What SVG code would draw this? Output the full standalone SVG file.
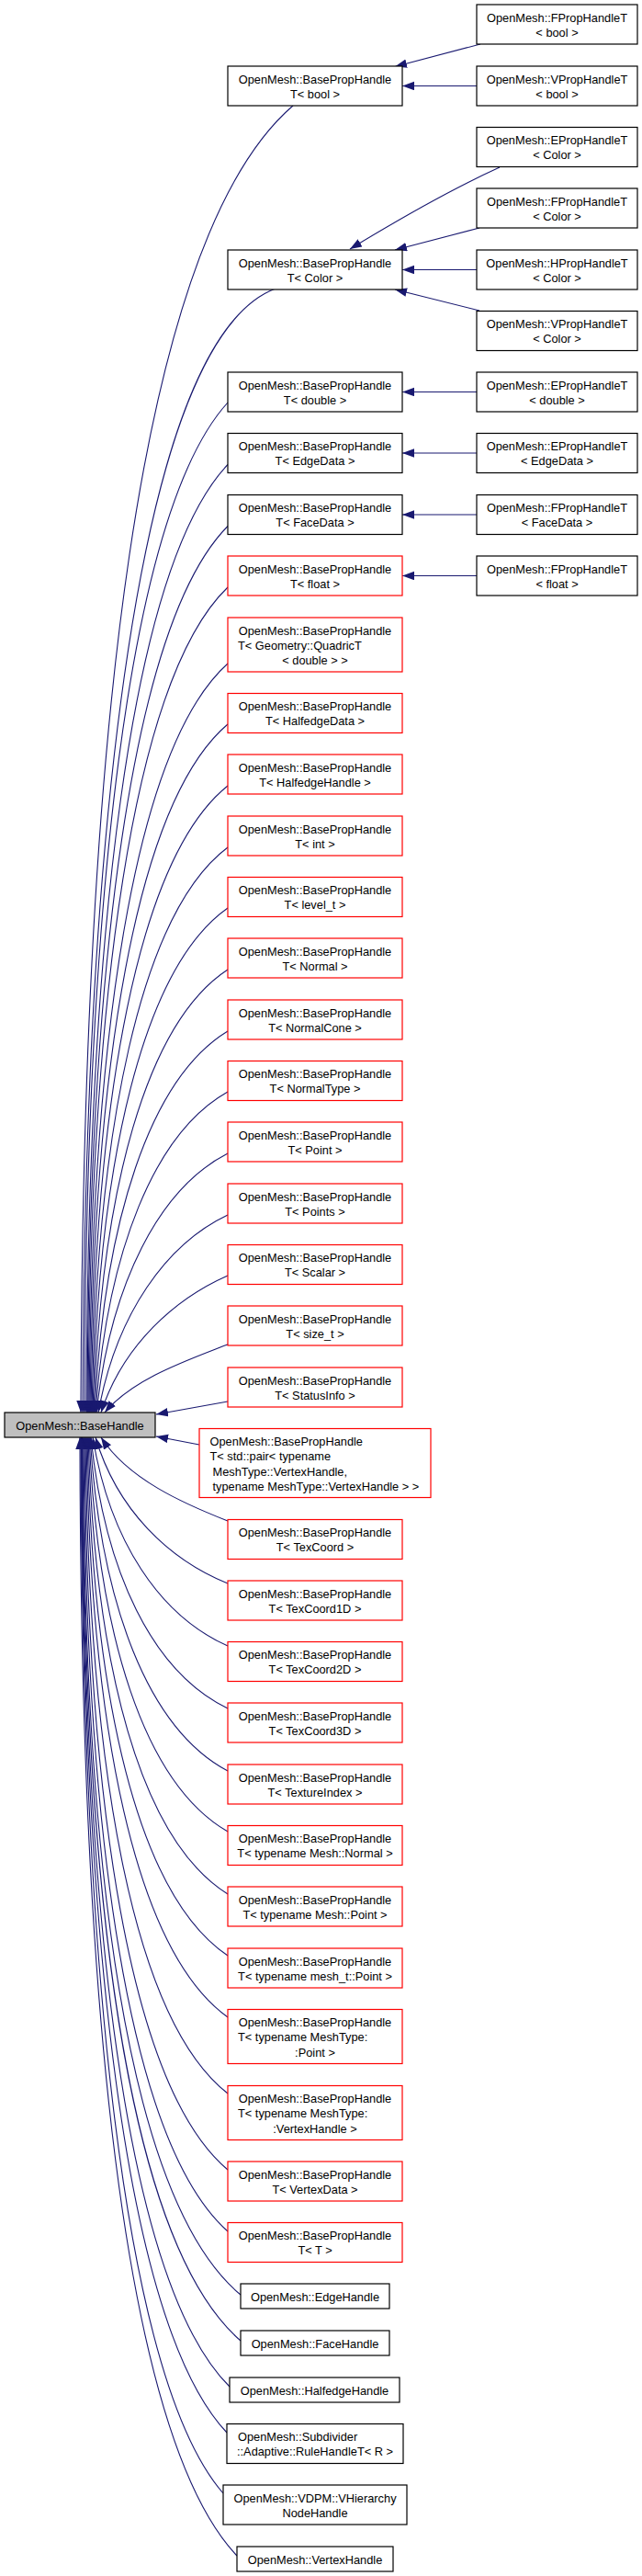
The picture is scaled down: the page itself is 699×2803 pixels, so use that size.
<svg xmlns="http://www.w3.org/2000/svg" width="699" height="2803" viewBox="0 0 699 2803">
<style>
rect{fill:#fff;stroke-width:1.2}
.b rect{stroke:#000}
.r rect{stroke:#f00}
.g rect{fill:#bfbfbf;stroke:#000}
text{font-family:"Liberation Sans",Arial,sans-serif;font-size:12.8px;fill:#000}
.c{text-anchor:middle}
#edges path{fill:none;stroke:#191970;stroke-width:1.1}
</style>
<defs>
<marker id="a" markerUnits="userSpaceOnUse" markerWidth="14" markerHeight="10" viewBox="0 0 14 10" refX="13" refY="4.75" orient="auto">
<path d="M0,0 L13,4.75 L0,9.5 z" fill="#191970"/>
</marker>
</defs>
<rect x="0" y="0" width="699" height="2803" style="fill:#fff;stroke:none"/>
<g id="edges" marker-end="url(#a)">
<path d="M523,48 L430,72.5" marker-end="url(#a)"/>
<path d="M519,93.5 L438,93.5" marker-end="url(#a)"/>
<path d="M544,182 C500,202 440,235 381,271" marker-end="url(#a)"/>
<path d="M522,248 L430,272" marker-end="url(#a)"/>
<path d="M519,293.5 L438,293.5" marker-end="url(#a)"/>
<path d="M522,338 L430,315" marker-end="url(#a)"/>
<path d="M519,426.5 L438,426.5" marker-end="url(#a)"/>
<path d="M519,493 L438,493" marker-end="url(#a)"/>
<path d="M519,560 L438,560" marker-end="url(#a)"/>
<path d="M519,626.5 L438,626.5" marker-end="url(#a)"/>
<path d="M319,115 C150,260 90,800 88,1537" marker-end="url(#a)"/>
<path d="M300,314 C150,370 92,900 90,1537" marker-end="url(#a)"/>
<path d="M248,438 C138.5,558 93,987.5 92,1537" marker-end="url(#a)"/>
<path d="M248,505.5 C140.9,618.6 95.3,1021.3 94,1537" marker-end="url(#a)"/>
<path d="M248,572.5 C142.4,679 96.6,1054.8 95,1537" marker-end="url(#a)"/>
<path d="M248,639 C144,738.8 98,1088 96,1537" marker-end="url(#a)"/>
<path d="M248,722 C146,813.5 99.6,1129.5 97,1537" marker-end="url(#a)"/>
<path d="M248,788 C147.9,872.9 101.3,1162.5 98,1537" marker-end="url(#a)"/>
<path d="M248,855 C150.2,933.2 103.1,1196 99,1537" marker-end="url(#a)"/>
<path d="M248,922 C152.7,993.5 105.2,1229.5 100,1537" marker-end="url(#a)"/>
<path d="M248,988 C155.6,1052.9 107.4,1262.5 101,1537" marker-end="url(#a)"/>
<path d="M248,1055 C159,1113.2 110,1296 102,1537" marker-end="url(#a)"/>
<path d="M248,1122 C163,1173.5 113,1329.5 103,1537" marker-end="url(#a)"/>
<path d="M248,1188 C167.8,1232.9 116.5,1362.5 104,1537" marker-end="url(#a)"/>
<path d="M248,1255 C173.4,1293.2 120.6,1396 105,1537" marker-end="url(#a)"/>
<path d="M248,1322 C181.3,1353.5 126.5,1429.5 107,1537" marker-end="url(#a)"/>
<path d="M248,1388 C191.5,1412.9 134.3,1462.5 110,1537" marker-end="url(#a)"/>
<path d="M250,1462 C205.7,1479.5 145.2,1499.5 114,1537" marker-end="url(#a)"/>
<path d="M248,1525 L170,1539" marker-end="url(#a)"/>
<path d="M217,1572 L170,1563" marker-end="url(#a)"/>
<path d="M248,1655 C199.3,1635.9 139.5,1609.5 110,1564" marker-end="url(#a)"/>
<path d="M248,1723 C184.3,1697.1 127.5,1643.5 104,1564" marker-end="url(#a)"/>
<path d="M248,1791 C174.1,1758.3 119.8,1677.5 101,1564" marker-end="url(#a)"/>
<path d="M248,1859 C166.4,1819.5 114,1711.5 99,1564" marker-end="url(#a)"/>
<path d="M248,1927 C160.9,1880.7 109.9,1745.5 98,1564" marker-end="url(#a)"/>
<path d="M248,1993 C156.3,1940.1 106.6,1778.5 97,1564" marker-end="url(#a)"/>
<path d="M248,2061 C152.5,2001.3 103.6,1812.5 96,1564" marker-end="url(#a)"/>
<path d="M248,2128 C149.2,2061.6 101.1,1846 95,1564" marker-end="url(#a)"/>
<path d="M248,2195 C146.3,2121.9 98.9,1879.5 94,1564" marker-end="url(#a)"/>
<path d="M248,2278 C143.6,2196.6 96.7,1921 93,1564" marker-end="url(#a)"/>
<path d="M248,2361 C141.2,2271.3 94.8,1962.5 92,1564" marker-end="url(#a)"/>
<path d="M248,2428 C139.4,2331.6 93.2,1996 91,1564" marker-end="url(#a)"/>
<path d="M262,2497 C137.7,2393.7 91.8,2030.5 90,1564" marker-end="url(#a)"/>
<path d="M262,2547 C136.8,2438.7 91,2055.5 89.5,1564" marker-end="url(#a)"/>
<path d="M250,2597 C135.9,2483.7 90.3,2080.5 89,1564" marker-end="url(#a)"/>
<path d="M247,2647 C135.1,2528.7 89.6,2105.5 88.5,1564" marker-end="url(#a)"/>
<path d="M243,2713 C134.3,2588.1 88.9,2138.5 88,1564" marker-end="url(#a)"/>
<path d="M258,2781 C133,2649.3 87.7,2172.5 87,1564" marker-end="url(#a)"/>
</g>
<g id="n_fprop_bool" class="b"><rect x="519" y="5" width="175" height="43"/><text class="c" x="606.5" y="23.5">OpenMesh::FPropHandleT</text><text class="c" x="606.5" y="39.5">&lt; bool &gt;</text></g>
<g id="n_vprop_bool" class="b"><rect x="519" y="72" width="175" height="43"/><text class="c" x="606.5" y="90.5">OpenMesh::VPropHandleT</text><text class="c" x="606.5" y="106.5">&lt; bool &gt;</text></g>
<g id="n_eprop_color" class="b"><rect x="519" y="138.5" width="175" height="43"/><text class="c" x="606.5" y="157">OpenMesh::EPropHandleT</text><text class="c" x="606.5" y="173">&lt; Color &gt;</text></g>
<g id="n_fprop_color" class="b"><rect x="519" y="205" width="175" height="43"/><text class="c" x="606.5" y="223.5">OpenMesh::FPropHandleT</text><text class="c" x="606.5" y="239.5">&lt; Color &gt;</text></g>
<g id="n_hprop_color" class="b"><rect x="519" y="272" width="175" height="43"/><text class="c" x="606.5" y="290.5">OpenMesh::HPropHandleT</text><text class="c" x="606.5" y="306.5">&lt; Color &gt;</text></g>
<g id="n_vprop_color" class="b"><rect x="519" y="338.5" width="175" height="43"/><text class="c" x="606.5" y="357">OpenMesh::VPropHandleT</text><text class="c" x="606.5" y="373">&lt; Color &gt;</text></g>
<g id="n_eprop_double" class="b"><rect x="519" y="405" width="175" height="43"/><text class="c" x="606.5" y="423.5">OpenMesh::EPropHandleT</text><text class="c" x="606.5" y="439.5">&lt; double &gt;</text></g>
<g id="n_eprop_edgedata" class="b"><rect x="519" y="471.5" width="175" height="43"/><text class="c" x="606.5" y="490">OpenMesh::EPropHandleT</text><text class="c" x="606.5" y="506">&lt; EdgeData &gt;</text></g>
<g id="n_fprop_facedata" class="b"><rect x="519" y="538.5" width="175" height="43"/><text class="c" x="606.5" y="557">OpenMesh::FPropHandleT</text><text class="c" x="606.5" y="573">&lt; FaceData &gt;</text></g>
<g id="n_fprop_float" class="b"><rect x="519" y="605" width="175" height="43"/><text class="c" x="606.5" y="623.5">OpenMesh::FPropHandleT</text><text class="c" x="606.5" y="639.5">&lt; float &gt;</text></g>
<g id="n_bph_bool" class="b"><rect x="248" y="72" width="190" height="43"/><text class="c" x="343" y="90.5">OpenMesh::BasePropHandle</text><text class="c" x="343" y="106.5">T&lt; bool &gt;</text></g>
<g id="n_bph_color" class="b"><rect x="248" y="272" width="190" height="43"/><text class="c" x="343" y="290.5">OpenMesh::BasePropHandle</text><text class="c" x="343" y="306.5">T&lt; Color &gt;</text></g>
<g id="n_bph_double" class="b"><rect x="248" y="405" width="190" height="43"/><text class="c" x="343" y="423.5">OpenMesh::BasePropHandle</text><text class="c" x="343" y="439.5">T&lt; double &gt;</text></g>
<g id="n_bph_edgedata" class="b"><rect x="248" y="471.5" width="190" height="43"/><text class="c" x="343" y="490">OpenMesh::BasePropHandle</text><text class="c" x="343" y="506">T&lt; EdgeData &gt;</text></g>
<g id="n_bph_facedata" class="b"><rect x="248" y="538.5" width="190" height="43"/><text class="c" x="343" y="557">OpenMesh::BasePropHandle</text><text class="c" x="343" y="573">T&lt; FaceData &gt;</text></g>
<g id="n_bph_float" class="r"><rect x="248" y="605" width="190" height="43"/><text class="c" x="343" y="623.5">OpenMesh::BasePropHandle</text><text class="c" x="343" y="639.5">T&lt; float &gt;</text></g>
<g id="n_bph_quadric" class="r"><rect x="248" y="672" width="190" height="59"/><text class="c" x="343" y="690.5">OpenMesh::BasePropHandle</text><text x="259" y="706.5">T&lt; Geometry::QuadricT</text><text class="c" x="343" y="723">&lt; double &gt; &gt;</text></g>
<g id="n_bph_halfedgedata" class="r"><rect x="248" y="754.5" width="190" height="43"/><text class="c" x="343" y="773">OpenMesh::BasePropHandle</text><text class="c" x="343" y="789">T&lt; HalfedgeData &gt;</text></g>
<g id="n_bph_halfedgehandle" class="r"><rect x="248" y="821" width="190" height="43"/><text class="c" x="343" y="839.5">OpenMesh::BasePropHandle</text><text class="c" x="343" y="855.5">T&lt; HalfedgeHandle &gt;</text></g>
<g id="n_bph_int" class="r"><rect x="248" y="888" width="190" height="43"/><text class="c" x="343" y="906.5">OpenMesh::BasePropHandle</text><text class="c" x="343" y="922.5">T&lt; int &gt;</text></g>
<g id="n_bph_level" class="r"><rect x="248" y="954.5" width="190" height="43"/><text class="c" x="343" y="973">OpenMesh::BasePropHandle</text><text class="c" x="343" y="989">T&lt; level_t &gt;</text></g>
<g id="n_bph_normal" class="r"><rect x="248" y="1021" width="190" height="43"/><text class="c" x="343" y="1039.5">OpenMesh::BasePropHandle</text><text class="c" x="343" y="1055.5">T&lt; Normal &gt;</text></g>
<g id="n_bph_normalcone" class="r"><rect x="248" y="1088" width="190" height="43"/><text class="c" x="343" y="1106.5">OpenMesh::BasePropHandle</text><text class="c" x="343" y="1122.5">T&lt; NormalCone &gt;</text></g>
<g id="n_bph_normaltype" class="r"><rect x="248" y="1154.5" width="190" height="43"/><text class="c" x="343" y="1173">OpenMesh::BasePropHandle</text><text class="c" x="343" y="1189">T&lt; NormalType &gt;</text></g>
<g id="n_bph_point" class="r"><rect x="248" y="1221" width="190" height="43"/><text class="c" x="343" y="1239.5">OpenMesh::BasePropHandle</text><text class="c" x="343" y="1255.5">T&lt; Point &gt;</text></g>
<g id="n_bph_points" class="r"><rect x="248" y="1288" width="190" height="43"/><text class="c" x="343" y="1306.5">OpenMesh::BasePropHandle</text><text class="c" x="343" y="1322.5">T&lt; Points &gt;</text></g>
<g id="n_bph_scalar" class="r"><rect x="248" y="1354.5" width="190" height="43"/><text class="c" x="343" y="1373">OpenMesh::BasePropHandle</text><text class="c" x="343" y="1389">T&lt; Scalar &gt;</text></g>
<g id="n_bph_size" class="r"><rect x="248" y="1421" width="190" height="43"/><text class="c" x="343" y="1439.5">OpenMesh::BasePropHandle</text><text class="c" x="343" y="1455.5">T&lt; size_t &gt;</text></g>
<g id="n_bph_statusinfo" class="r"><rect x="248" y="1488" width="190" height="43"/><text class="c" x="343" y="1506.5">OpenMesh::BasePropHandle</text><text class="c" x="343" y="1522.5">T&lt; StatusInfo &gt;</text></g>
<g id="n_basehandle" class="g"><rect x="5" y="1537" width="164" height="27"/><text class="c" x="87" y="1555.5">OpenMesh::BaseHandle</text></g>
<g id="n_bph_pair" class="r"><rect x="217" y="1554.5" width="252" height="75"/><text x="228.5" y="1573">OpenMesh::BasePropHandle</text><text x="228.5" y="1589">T&lt; std::pair&lt; typename</text><text x="231.5" y="1605.5">MeshType::VertexHandle,</text><text x="231.5" y="1622">typename MeshType::VertexHandle &gt; &gt;</text></g>
<g id="n_bph_texcoord" class="r"><rect x="248" y="1653.5" width="190" height="43"/><text class="c" x="343" y="1672">OpenMesh::BasePropHandle</text><text class="c" x="343" y="1688">T&lt; TexCoord &gt;</text></g>
<g id="n_bph_texcoord1d" class="r"><rect x="248" y="1720" width="190" height="43"/><text class="c" x="343" y="1738.5">OpenMesh::BasePropHandle</text><text class="c" x="343" y="1754.5">T&lt; TexCoord1D &gt;</text></g>
<g id="n_bph_texcoord2d" class="r"><rect x="248" y="1786.5" width="190" height="43"/><text class="c" x="343" y="1805">OpenMesh::BasePropHandle</text><text class="c" x="343" y="1821">T&lt; TexCoord2D &gt;</text></g>
<g id="n_bph_texcoord3d" class="r"><rect x="248" y="1853" width="190" height="43"/><text class="c" x="343" y="1871.5">OpenMesh::BasePropHandle</text><text class="c" x="343" y="1887.5">T&lt; TexCoord3D &gt;</text></g>
<g id="n_bph_textureindex" class="r"><rect x="248" y="1920" width="190" height="43"/><text class="c" x="343" y="1938.5">OpenMesh::BasePropHandle</text><text class="c" x="343" y="1954.5">T&lt; TextureIndex &gt;</text></g>
<g id="n_bph_mesh_normal" class="r"><rect x="248" y="1986.5" width="190" height="43"/><text class="c" x="343" y="2005">OpenMesh::BasePropHandle</text><text class="c" x="343" y="2021">T&lt; typename Mesh::Normal &gt;</text></g>
<g id="n_bph_mesh_point" class="r"><rect x="248" y="2053" width="190" height="43"/><text class="c" x="343" y="2071.5">OpenMesh::BasePropHandle</text><text class="c" x="343" y="2087.5">T&lt; typename Mesh::Point &gt;</text></g>
<g id="n_bph_mesh_t_point" class="r"><rect x="248" y="2120" width="190" height="43"/><text class="c" x="343" y="2138.5">OpenMesh::BasePropHandle</text><text class="c" x="343" y="2154.5">T&lt; typename mesh_t::Point &gt;</text></g>
<g id="n_bph_meshtype_point" class="r"><rect x="248" y="2186.5" width="190" height="59"/><text class="c" x="343" y="2205">OpenMesh::BasePropHandle</text><text x="259" y="2221">T&lt; typename MeshType:</text><text class="c" x="343" y="2237.5">:Point &gt;</text></g>
<g id="n_bph_meshtype_vh" class="r"><rect x="248" y="2269.5" width="190" height="59"/><text class="c" x="343" y="2288">OpenMesh::BasePropHandle</text><text x="259" y="2304">T&lt; typename MeshType:</text><text class="c" x="343" y="2320.5">:VertexHandle &gt;</text></g>
<g id="n_bph_vertexdata" class="r"><rect x="248" y="2352" width="190" height="43"/><text class="c" x="343" y="2370.5">OpenMesh::BasePropHandle</text><text class="c" x="343" y="2386.5">T&lt; VertexData &gt;</text></g>
<g id="n_bph_t" class="r"><rect x="248" y="2418.5" width="190" height="43"/><text class="c" x="343" y="2437">OpenMesh::BasePropHandle</text><text class="c" x="343" y="2453">T&lt; T &gt;</text></g>
<g id="n_edgehandle" class="b"><rect x="262" y="2485" width="162" height="27"/><text class="c" x="343" y="2503.5">OpenMesh::EdgeHandle</text></g>
<g id="n_facehandle" class="b"><rect x="262" y="2536" width="162" height="27"/><text class="c" x="343" y="2554.5">OpenMesh::FaceHandle</text></g>
<g id="n_halfedgehandle" class="b"><rect x="250" y="2587" width="185" height="27"/><text class="c" x="342.5" y="2605.5">OpenMesh::HalfedgeHandle</text></g>
<g id="n_rulehandle" class="b"><rect x="247" y="2637.5" width="192" height="43"/><text x="259" y="2656">OpenMesh::Subdivider</text><text class="c" x="343" y="2672">::Adaptive::RuleHandleT&lt; R &gt;</text></g>
<g id="n_vhierarchy" class="b"><rect x="243" y="2704" width="200" height="43"/><text class="c" x="343" y="2722.5">OpenMesh::VDPM::VHierarchy</text><text class="c" x="343" y="2738.5">NodeHandle</text></g>
<g id="n_vertexhandle" class="b"><rect x="258" y="2771" width="170" height="27"/><text class="c" x="343" y="2789.5">OpenMesh::VertexHandle</text></g>
</svg>
